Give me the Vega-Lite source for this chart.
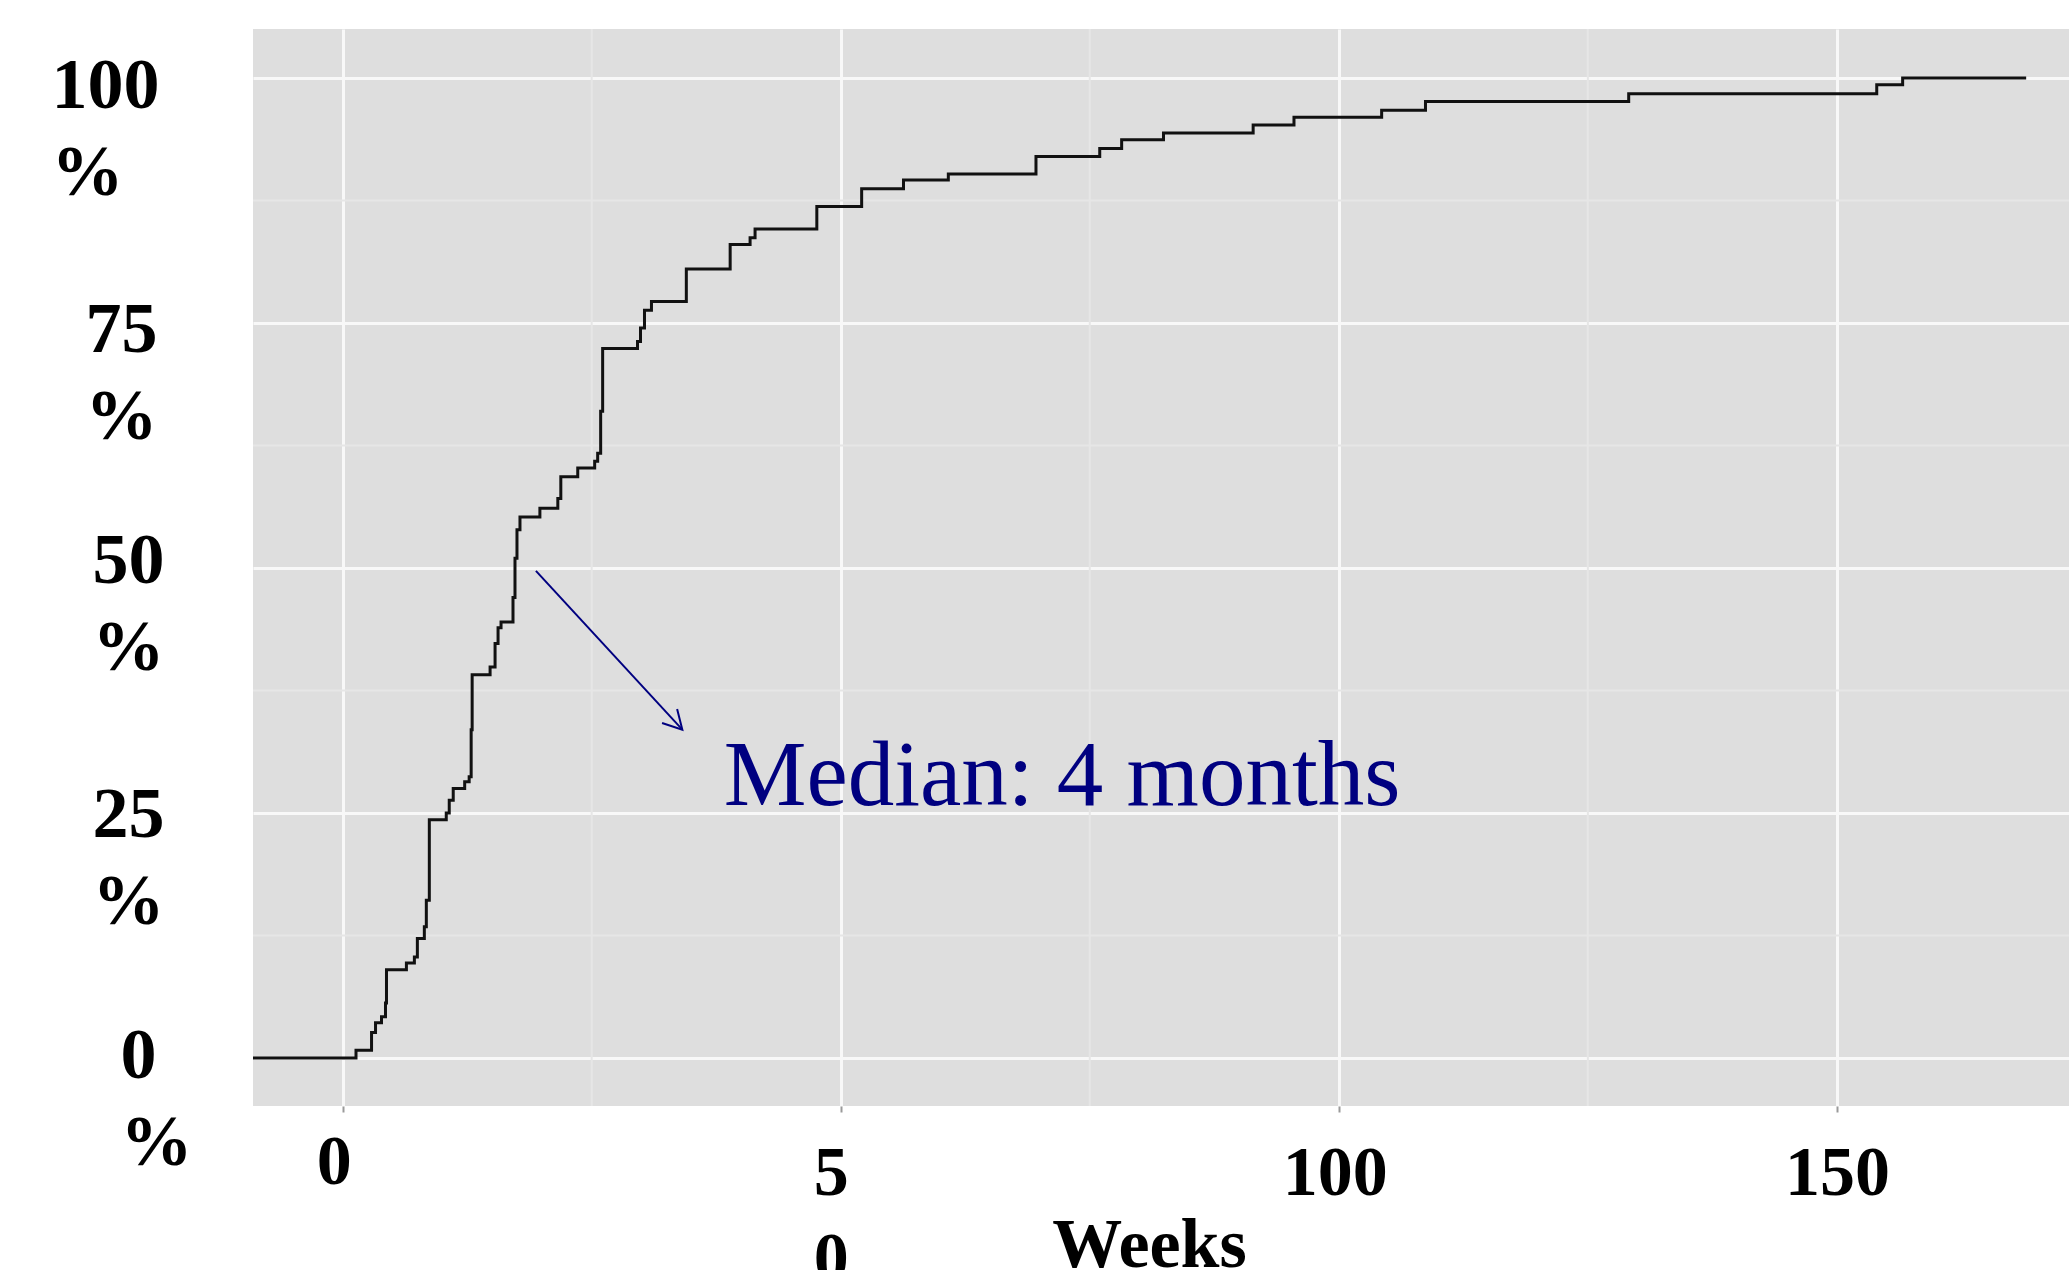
{
  "$schema": "https://vega.github.io/schema/vega-lite/v6.json",
  "autosize": {"type": "none"},
  "padding": {"left": 253, "top": 29, "right": 0, "bottom": 164},
  "width": 1816,
  "height": 1077,
  "background": "white",
  "config": {
    "font": "Liberation Serif",
    "view": {"fill": "#DEDEDE", "stroke": null}
  },
  "datasets": {
    "surv": [
      {"week": -9, "pct": 0},
      {"week": 1.34, "pct": 0.8},
      {"week": 2.9, "pct": 2.6},
      {"week": 3.3, "pct": 3.6},
      {"week": 3.9, "pct": 4.2},
      {"week": 4.3, "pct": 5.6},
      {"week": 4.4, "pct": 9.0},
      {"week": 6.4, "pct": 9.7},
      {"week": 7.2, "pct": 10.3},
      {"week": 7.5, "pct": 12.2},
      {"week": 8.2, "pct": 13.4},
      {"week": 8.4, "pct": 16.1},
      {"week": 8.7, "pct": 24.3},
      {"week": 10.4, "pct": 25.0},
      {"week": 10.7, "pct": 26.3},
      {"week": 11.1, "pct": 27.5},
      {"week": 12.25, "pct": 28.2},
      {"week": 12.7, "pct": 28.7},
      {"week": 12.9, "pct": 33.5},
      {"week": 13.0, "pct": 39.1},
      {"week": 14.8, "pct": 39.9},
      {"week": 15.3, "pct": 42.3},
      {"week": 15.6, "pct": 43.9},
      {"week": 15.9, "pct": 44.5},
      {"week": 17.1, "pct": 47.0},
      {"week": 17.3, "pct": 51.0},
      {"week": 17.5, "pct": 53.9},
      {"week": 17.8, "pct": 55.2},
      {"week": 19.8, "pct": 56.1},
      {"week": 21.6, "pct": 57.1},
      {"week": 21.9, "pct": 59.3},
      {"week": 23.6, "pct": 60.2},
      {"week": 25.3, "pct": 60.9},
      {"week": 25.6, "pct": 61.7},
      {"week": 25.9, "pct": 66.0},
      {"week": 26.1, "pct": 72.4},
      {"week": 29.6, "pct": 73.1},
      {"week": 29.9, "pct": 74.5},
      {"week": 30.3, "pct": 76.3},
      {"week": 31.0, "pct": 77.2},
      {"week": 34.5, "pct": 80.5},
      {"week": 38.9, "pct": 83.0},
      {"week": 40.9, "pct": 83.7},
      {"week": 41.4, "pct": 84.6},
      {"week": 47.6, "pct": 86.9},
      {"week": 52.1, "pct": 88.7},
      {"week": 56.3, "pct": 89.6},
      {"week": 60.8, "pct": 90.2},
      {"week": 69.6, "pct": 92.0},
      {"week": 76.0, "pct": 92.8},
      {"week": 78.2, "pct": 93.7},
      {"week": 82.4, "pct": 94.4},
      {"week": 91.4, "pct": 95.2},
      {"week": 95.5, "pct": 96.0},
      {"week": 104.3, "pct": 96.7},
      {"week": 108.7, "pct": 97.6},
      {"week": 129.1, "pct": 98.4},
      {"week": 154.0, "pct": 99.3},
      {"week": 156.6, "pct": 100},
      {"week": 169.0, "pct": 100}
    ],
    "minorx": [{"w": 25}, {"w": 75}, {"w": 125}],
    "minory": [{"p": 12.5}, {"p": 37.5}, {"p": 62.5}, {"p": 87.5}],
    "arrow": [{"x1": 19.4, "y1": 49.7, "x2": 34.1, "y2": 33.5}],
    "note": [{"w": 38.25, "p": 25.8, "text": "Median: 4 months"}]
  },
  "layer": [
    {
      "data": {"name": "surv"},
      "mark": {"type": "line", "interpolate": "step-after", "stroke": "#111111", "strokeWidth": 3, "clip": true, "opacity": 0},
      "encoding": {
        "x": {
          "field": "week", "type": "quantitative",
          "scale": {"domain": [-9, 173.3], "nice": false, "zero": false},
          "axis": {
            "values": [0, 50, 100, 150],
            "format": "d",
            "labelExpr": "datum.value == 50 ? ['5','0'] : datum.label",
            "title": "Weeks",
            "titleFont": "Liberation Serif", "titleFontSize": 70, "titleFontWeight": "bold", "titleColor": "black",
            "titleX": 896, "titleY": 160, "titleBaseline": "alphabetic", "titleAlign": "center",
            "labelFont": "Liberation Serif", "labelFontSize": 70, "labelFontWeight": "bold", "labelColor": "black",
            "labelBaseline": "alphabetic", "labelAlign": "center", "labelLineHeight": 86,
            "labelPadding": {"condition": {"test": "datum.value == 0", "value": 71}, "value": 82},
            "labelOffset": {"condition": [
              {"test": "datum.value == 0", "value": -9},
              {"test": "datum.value == 50", "value": -10},
              {"test": "datum.value == 100", "value": -4}
            ], "value": 0},
            "ticks": true, "tickSize": 6, "tickColor": "#9A9A9A", "tickWidth": 2,
            "domain": false,
            "grid": true, "gridColor": "#F8F8F8", "gridWidth": 3,
            "labelFlush": false, "labelOverlap": false, "labelBound": false
          }
        },
        "y": {
          "field": "pct", "type": "quantitative",
          "scale": {"domain": [-4.9, 105], "nice": false, "zero": false},
          "axis": {
            "values": [0, 25, 50, 75, 100],
            "format": "d",
            "labelExpr": "[datum.label, '%']",
            "title": null,
            "labelFont": "Liberation Serif", "labelFontSize": 72, "labelFontWeight": "bold", "labelColor": "black",
            "labelAlign": "left", "labelBaseline": "alphabetic", "labelLineHeight": 87,
            "labelPadding": {"condition": [
              {"test": "datum.value == 100", "value": 202},
              {"test": "datum.value == 75", "value": 168},
              {"test": "datum.value == 0", "value": 133}
            ], "value": 161},
            "labelOffset": {"condition": [
              {"test": "datum.value == 100", "value": 30},
              {"test": "datum.value == 75", "value": 29},
              {"test": "datum.value == 50", "value": 15},
              {"test": "datum.value == 25", "value": 24}
            ], "value": 20},
            "ticks": false, "tickSize": 0,
            "domain": false,
            "grid": true, "gridColor": "#F8F8F8", "gridWidth": 3,
            "labelFlush": false, "labelOverlap": false, "labelBound": false
          }
        }
      }
    },
    {
      "data": {"name": "minorx"},
      "mark": {"type": "rule", "color": "#E6E6E6", "strokeWidth": 2},
      "encoding": {
        "x": {"field": "w", "type": "quantitative"}
      }
    },
    {
      "data": {"name": "minory"},
      "mark": {"type": "rule", "color": "#E6E6E6", "strokeWidth": 2},
      "encoding": {
        "y": {"field": "p", "type": "quantitative"}
      }
    },
    {
      "data": {"name": "surv"},
      "mark": {"type": "line", "interpolate": "step-after", "stroke": "#111111", "strokeWidth": 3, "clip": true},
      "encoding": {
        "x": {"field": "week", "type": "quantitative"},
        "y": {"field": "pct", "type": "quantitative"}
      }
    },
    {
      "data": {"name": "arrow"},
      "mark": {"type": "rule", "color": "#000080", "strokeWidth": 2},
      "encoding": {
        "x": {"field": "x1", "type": "quantitative"},
        "y": {"field": "y1", "type": "quantitative"},
        "x2": {"field": "x2"},
        "y2": {"field": "y2"}
      }
    },
    {
      "data": {"name": "arrow"},
      "mark": {"type": "point", "shape": "M -0.55 -1 L 0 0 L 0.55 -1", "size": 1400, "filled": false,
               "stroke": "#000080", "strokeWidth": 2, "angle": 317, "opacity": 1},
      "encoding": {
        "x": {"field": "x2", "type": "quantitative"},
        "y": {"field": "y2", "type": "quantitative"}
      }
    },
    {
      "data": {"name": "note"},
      "mark": {"type": "text", "font": "Liberation Serif", "fontSize": 93, "color": "#000080",
               "align": "left", "baseline": "alphabetic"},
      "encoding": {
        "x": {"field": "w", "type": "quantitative"},
        "y": {"field": "p", "type": "quantitative"},
        "text": {"field": "text"}
      }
    }
  ]
}
